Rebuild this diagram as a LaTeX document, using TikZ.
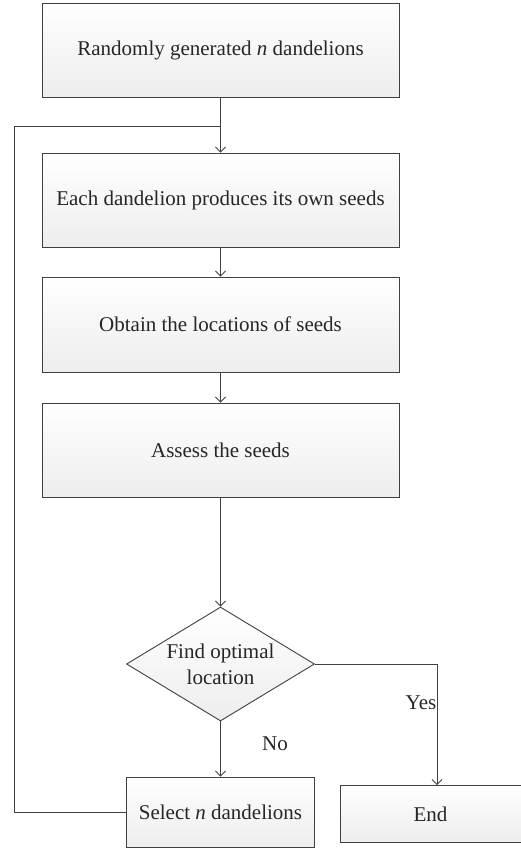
\documentclass[tikz,border=0pt]{standalone}
\usepackage{fontspec}
\setmainfont{Liberation Serif}
\usetikzlibrary{shapes.geometric,arrows.meta}
\definecolor{ln}{HTML}{404040}
\begin{document}
\begin{tikzpicture}[x=1pt,y=-1pt,
  every node/.style={font=\fontsize{21}{24}\selectfont, text=black!85},
  boxshape/.style={draw=ln, line width=0.9pt, top color=white, bottom color=black!7, inner sep=0pt},
  arr/.style={draw=ln, line width=0.8pt, -{Straight Barb[length=5pt,width=10pt]}},
  ln/.style={draw=ln, line width=0.8pt}]
\useasboundingbox (0,0) rectangle (521,848);
\node[boxshape, minimum width=357pt, minimum height=94pt] (b1) at (220.5,50) {Randomly generated \textit{n} dandelions};
\node[boxshape, minimum width=357pt, minimum height=94pt] (b2) at (220.5,200) {Each dandelion produces its own seeds};
\node[boxshape, minimum width=357pt, minimum height=95pt] (b3) at (220.5,324.5) {Obtain the locations of seeds};
\node[boxshape, minimum width=357pt, minimum height=94pt] (b4) at (220.5,450) {Assess the seeds};
\node[boxshape, diamond, aspect=1.65, minimum width=188pt, minimum height=114pt, align=center, font=\fontsize{21}{26}\selectfont] (d) at (220.5,664) {Find optimal\\location};
\node[boxshape, minimum width=188pt, minimum height=70pt] (sel) at (220.5,812) {Select \textit{n} dandelions};
\node[boxshape, minimum width=181pt, minimum height=57pt] (end) at (430.5,814) {End};
\coordinate (j) at (220.5,126);
\coordinate (lb) at (14,812);
\coordinate (lt) at (14,126);
\coordinate (yx) at (437,0);
\draw[arr] (b1.south) -- (b2.north);
\draw[ln] (sel.west) -- (lb) -- (lt) -- (j);
\draw[arr] (b2.south) -- (b3.north);
\draw[arr] (b3.south) -- (b4.north);
\draw[arr] (b4.south) -- (d.north);
\draw[arr] (d.south) -- (sel.north);
\draw[arr] (d.east) -- (d.east -| yx) -- (yx |- end.north);
\node (yes) at (421,703) {Yes};
\node (no) at (275,744) {No};
\end{tikzpicture}
\end{document}
